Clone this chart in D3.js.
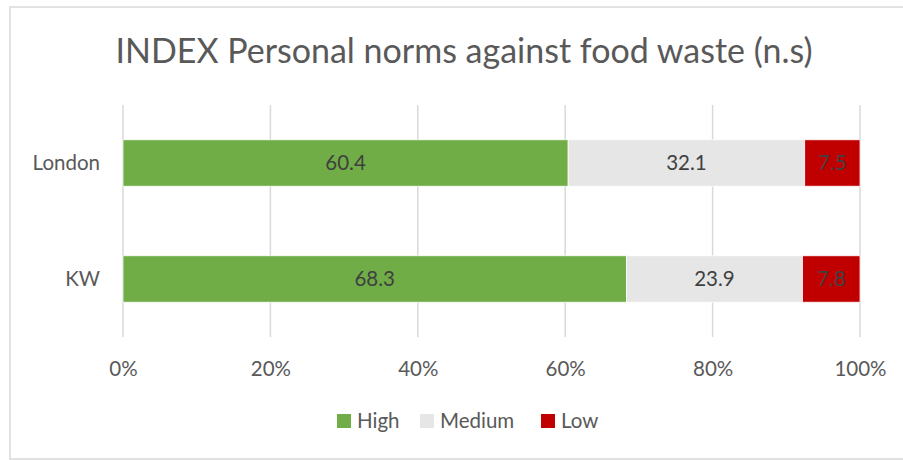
<!DOCTYPE html>
<html>
<head>
<meta charset="utf-8">
<script src="https://cdn.jsdelivr.net/npm/d3@7"></script>
<style>
  html, body { margin: 0; padding: 0; background: #fff; }
  svg { display: block; font-family: Lato, "Open Sans", sans-serif; }
</style>
</head>
<body>
<svg id="chart" width="903" height="460"></svg>
<script>
// Survey groups (top to bottom)
const categories = ["London", "KW"];
// Share of respondents per norm level, in percent
const high = [60.4, 68.3];
const medium = [32.1, 23.9];
const low = [7.5, 7.8];
const seriesNames = ["High", "Medium", "Low"];
const seriesColors = ["#70AD47", "#E6E6E6", "#C00000"];
const tickValues = [0, 20, 40, 60, 80, 100];
const titleText = "INDEX Personal norms against food waste (n.s)";

const svg = d3.select("#chart");
const W = 903, H = 460;
const fontFamily = "Lato, 'Open Sans', sans-serif";
const labelSize = 20.5;

// chart frame
svg.append("rect")
  .attr("x", 10).attr("y", 7)
  .attr("width", W + 10).attr("height", 452)
  .attr("fill", "#fff").attr("stroke", "#D9D9D9").attr("stroke-width", 1.5);

svg.append("text")
  .attr("x", 464).attr("y", 63)
  .attr("text-anchor", "middle")
  .attr("font-size", 34)
  .attr("fill", "#595959")
  .text(titleText);

const plot = { left: 123, right: 860, top: 105, bottom: 337 };

const x = d3.scaleLinear().domain([0, 100]).range([plot.left, plot.right]);
const y = d3.scaleBand().domain(categories).range([plot.top, plot.bottom]).padding(0);
const barH = y.bandwidth() * 0.4;

// vertical gridlines
svg.append("g")
  .selectAll("line")
  .data(tickValues)
  .join("line")
  .attr("x1", d => x(d)).attr("x2", d => x(d))
  .attr("y1", plot.top).attr("y2", plot.bottom)
  .attr("stroke", "#D9D9D9").attr("stroke-width", 1.5);

// stacked data
const rows = categories.map((c, i) => ({ cat: c, High: high[i], Medium: medium[i], Low: low[i] }));
const stack = d3.stack().keys(seriesNames)(rows);

const groups = svg.append("g")
  .selectAll("g")
  .data(stack)
  .join("g")
  .attr("fill", (d, i) => seriesColors[i]);

groups.selectAll("rect")
  .data(d => d.map(p => ({ p, key: d.key })))
  .join("rect")
  .attr("x", d => x(d.p[0]))
  .attr("width", d => x(d.p[1]) - x(d.p[0]))
  .attr("y", d => y(d.p.data.cat) + (y.bandwidth() - barH) / 2)
  .attr("height", barH)
  .attr("stroke", "#fff").attr("stroke-width", 0.75);

// value labels
groups.selectAll("text")
  .data(d => d.map(p => ({ p, key: d.key })))
  .join("text")
  .attr("x", d => (x(d.p[0]) + x(d.p[1])) / 2)
  .attr("y", d => y(d.p.data.cat) + y.bandwidth() / 2)
  .attr("dy", "0.35em")
  .attr("text-anchor", "middle")
  .attr("font-size", labelSize)
  .attr("fill", "#404040")
  .text(d => d.p.data[d.key].toFixed(1));

// category axis labels
const yAxis = d3.axisLeft(y).tickSize(0).tickPadding(23);
svg.append("g")
  .attr("transform", `translate(${plot.left},0)`)
  .call(yAxis)
  .call(g => g.select(".domain").remove())
  .call(g => g.selectAll("text")
    .attr("font-size", labelSize).attr("fill", "#595959")
    .attr("font-family", fontFamily));

// percent axis labels
const xAxis = d3.axisBottom(x).tickValues(tickValues).tickSize(0).tickPadding(24)
  .tickFormat(d => d + "%");
svg.append("g")
  .attr("transform", `translate(0,${plot.bottom})`)
  .call(xAxis)
  .call(g => g.select(".domain").remove())
  .call(g => g.selectAll("text")
    .attr("font-size", labelSize).attr("fill", "#595959")
    .attr("font-family", fontFamily));

// legend
const legendX = [337, 420, 541];
const legend = svg.append("g")
  .selectAll("g")
  .data(seriesNames)
  .join("g")
  .attr("transform", (d, i) => `translate(${legendX[i]},414)`);
legend.append("rect")
  .attr("width", 14).attr("height", 14)
  .attr("fill", (d, i) => seriesColors[i]);
legend.append("text")
  .attr("x", 20).attr("y", 7).attr("dy", "0.35em")
  .attr("font-size", labelSize).attr("fill", "#595959")
  .text(d => d);
</script>
</body>
</html>
